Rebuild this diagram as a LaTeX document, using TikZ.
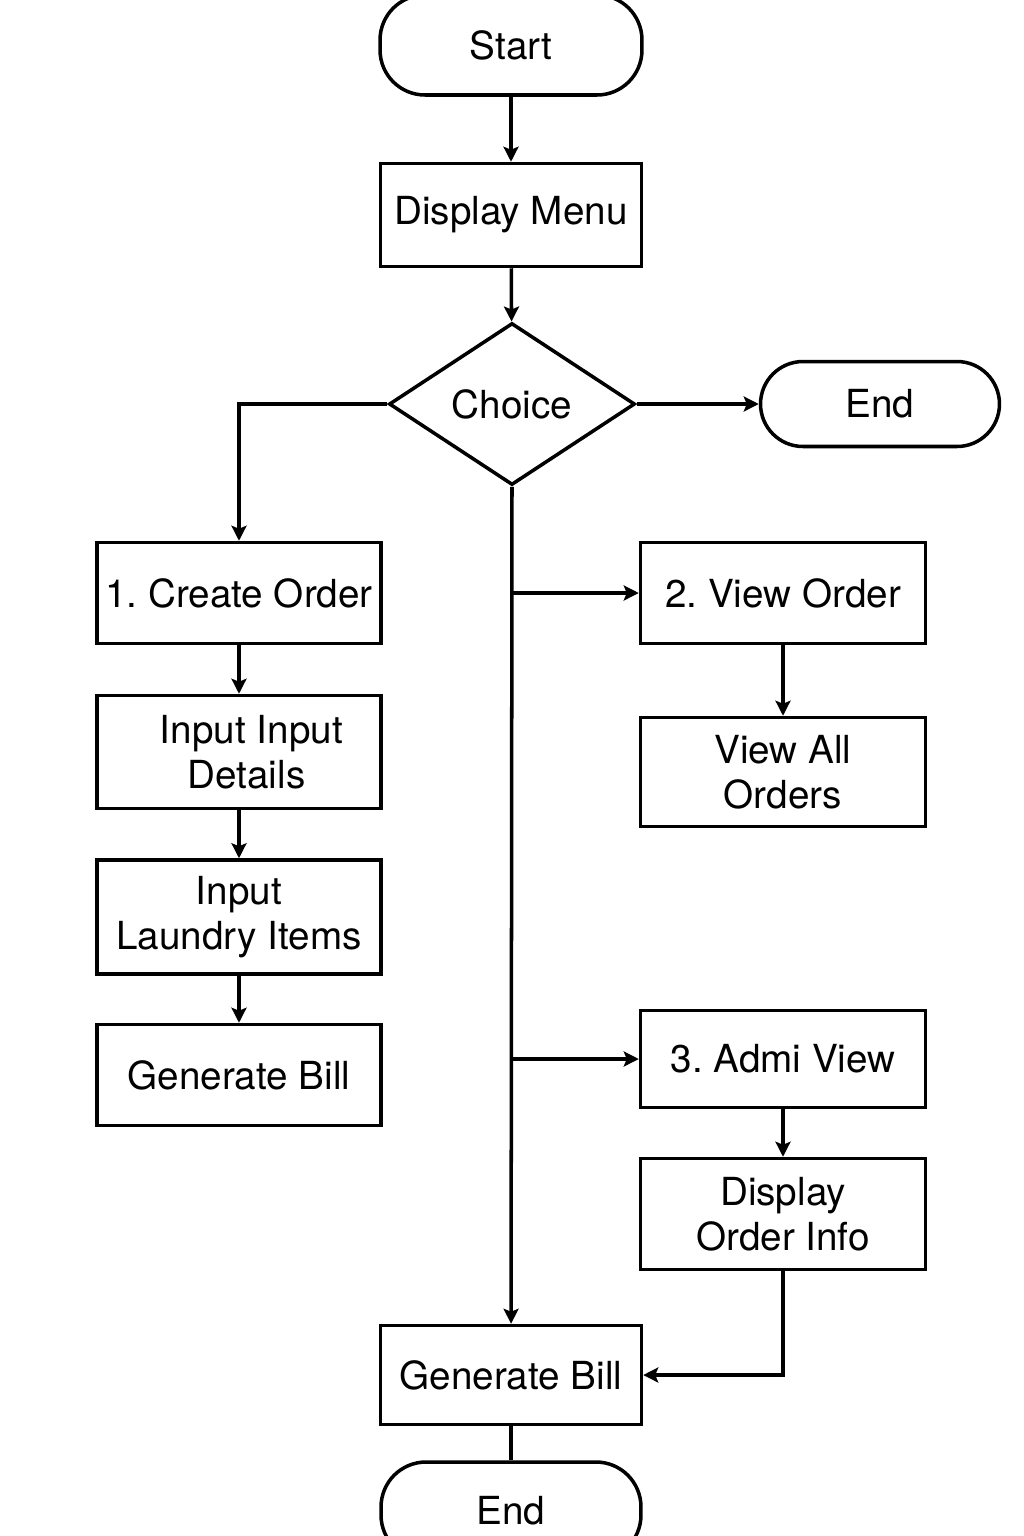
\documentclass[tikz,border=0pt]{standalone}
\usepackage{fontspec}
\setmainfont{TeX Gyre Heros}
\frenchspacing
\usetikzlibrary{shapes.geometric,arrows.meta,calc,positioning}

\tikzset{
	box/.style={draw, line width=2pt, rectangle, inner sep=0pt, align=center,
		font=\fontsize{22}{25.6}\selectfont},
	term/.style={box, rounded corners=0.9cm},
	decide/.style={draw, line width=2pt, diamond, inner sep=0pt, aspect=1.52,
		minimum width=4.92cm, minimum height=3.24cm, font=\fontsize{22}{25.6}\selectfont},
	arr/.style={line width=2pt, -{Stealth[length=0.3cm,width=0.3cm,inset=0.06cm]}},
	ln/.style={line width=2pt}
}

\begin{document}
\begin{tikzpicture}[x=0.02cm,y=-0.02cm]
	\useasboundingbox (0,0) rectangle (1024,1536);
	% terminals and main column
	\node[term, minimum width=5.24cm, minimum height=2cm] (start) at (511,45) {Start};
	\node[box, minimum width=5.22cm, minimum height=2.06cm] (menu) at (511,215) {Display Menu};
	\node[decide] (choice) at (512,404) {Choice};
	\node[term, minimum width=4.78cm, minimum height=1.7cm, rounded corners=0.85cm] (endr) at (880,404) {End};
	% create order branch
	\node[box, minimum width=5.68cm, minimum height=2.02cm] (create) at (239,593) {1. Create Order};
	\node[box, minimum width=5.68cm, minimum height=2.26cm] (details) at (239,752) {\hspace*{0.5cm}Input Input\\\hspace*{0.3cm}Details};
	\node[box, minimum width=5.68cm, minimum height=2.28cm] (items) at (239,917) {Input\\Laundry Items};
	\node[box, minimum width=5.68cm, minimum height=2.02cm] (billl) at (239,1075) {Generate Bill};
	% view order branch
	\node[box, minimum width=5.7cm, minimum height=2.02cm] (view) at (783,593) {2. View Order};
	\node[box, minimum width=5.7cm, minimum height=2.18cm] (viewall) at (783,772) {View All\\Orders};
	% admin branch
	\node[box, minimum width=5.7cm, minimum height=1.94cm] (admin) at (783,1059) {3. Admi View};
	\node[box, minimum width=5.7cm, minimum height=2.22cm] (info) at (783,1214) {Display\\Order Info};
	% bottom
	\node[box, minimum width=5.22cm, minimum height=1.98cm] (bill) at (511,1375) {Generate Bill};
	\node[term, minimum width=5.2cm, minimum height=1.96cm] (endb) at (511,1511) {End};

	\draw[arr] (start) -- (menu);
	\draw[arr] (menu) -- (choice);
	\draw[arr] (choice) -- (endr);
	\draw[arr] (choice.west) -| (create);
	\draw[arr] (choice.south) -- (bill);
	\draw[arr] (choice.south |- view.west) -- (view.west);
	\draw[arr] (choice.south |- admin.west) -- (admin.west);
	\draw[arr] (create) -- (details);
	\draw[arr] (details) -- (items);
	\draw[arr] (items) -- (billl);
	\draw[arr] (view) -- (viewall);
	\draw[arr] (admin) -- (info);
	\draw[arr] (info.south) |- (bill.east);
	\draw[ln] (bill) -- (endb);
\end{tikzpicture}
\end{document}
